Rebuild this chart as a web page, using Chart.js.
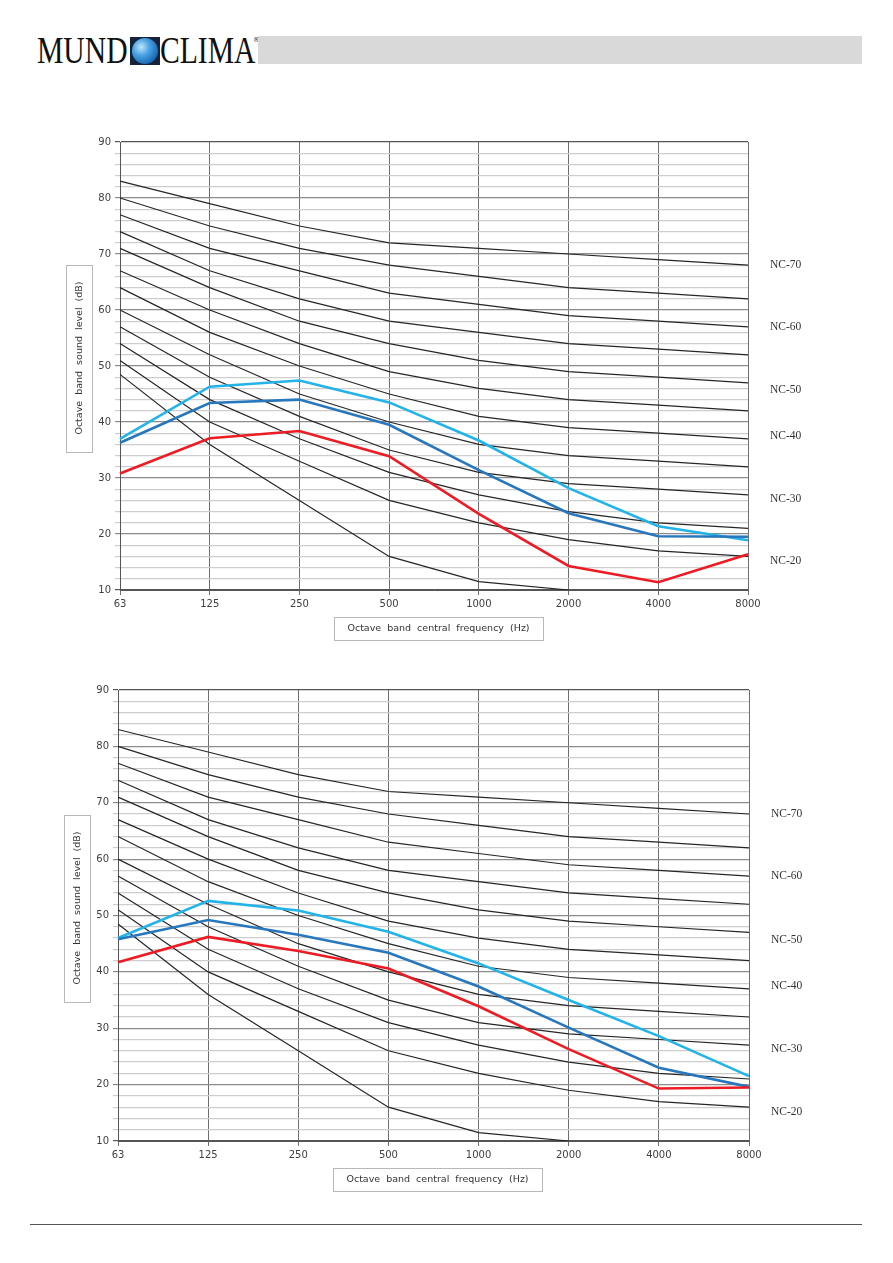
<!DOCTYPE html>
<html>
<head>
<meta charset="utf-8">
<script src="https://cdn.jsdelivr.net/npm/chart.js"></script>
<style>
  body { margin: 0; background: #fff; width: 893px; height: 1263px; position: relative; overflow: hidden; }
  .logo { position: absolute; top: 31px; font-family: "Liberation Serif", serif; font-size: 38px; color: #111; transform: scaleX(0.78); transform-origin: left top; line-height: 38px; }
  .globe { position: absolute; left: 130px; top: 37px; width: 30px; height: 28px; background: #15243c; }
  .globe:after { content: ""; position: absolute; left: 2px; top: 1px; width: 26px; height: 26px; border-radius: 50%;
    background: radial-gradient(circle at 35% 35%, #bfe4fb 0%, #4aa3e3 35%, #1566b3 75%, #0c3f7a 100%); }
  .reg { position: absolute; left: 253px; top: 36px; font-size: 7px; font-family: "DejaVu Sans", sans-serif; color: #333; }
  .bar { position: absolute; left: 258px; top: 36px; width: 604px; height: 28px; background: #d9d9d9; }
  .foot { position: absolute; left: 30px; top: 1224px; width: 832px; height: 1px; background: #555; }
  canvas { position: absolute; }
</style>
</head>
<body>
<div class="logo" style="left:37px">MUND</div>
<div class="globe"></div>
<div class="logo" style="left:160px">CLIMA</div>
<div class="reg">®</div>
<div class="bar"></div>
<div class="foot"></div>

<canvas id="chart1" width="780" height="520" style="left:60px; top:130px"></canvas>
<canvas id="chart2" width="782" height="523" style="left:58px; top:678px"></canvas>

<script>
// octave band centre frequencies (Hz)
const freqLabels = ['63', '125', '250', '500', '1000', '2000', '4000', '8000'];

// NC reference curves (dB)
const nc70 = [83, 79, 75, 72, 71, 70, 69, 68];
const nc65 = [80, 75, 71, 68, 66, 64, 63, 62];
const nc60 = [77, 71, 67, 63, 61, 59, 58, 57];
const nc55 = [74, 67, 62, 58, 56, 54, 53, 52];
const nc50 = [71, 64, 58, 54, 51, 49, 48, 47];
const nc45 = [67, 60, 54, 49, 46, 44, 43, 42];
const nc40 = [64, 56, 50, 45, 41, 39, 38, 37];
const nc35 = [60, 52, 45, 40, 36, 34, 33, 32];
const nc30 = [57, 48, 41, 35, 31, 29, 28, 27];
const nc25 = [54, 44, 37, 31, 27, 24, 22, 21];
const nc20 = [51, 40, 33, 26, 22, 19, 17, 16];
const ncLow = [48.5, 36, 26, 16, 11.5, 10, null, null];

// labels on the right and the dB level they sit at
const ncLabelNames = ['NC-70', 'NC-60', 'NC-50', 'NC-40', 'NC-30', 'NC-20'];
const ncLabelAt = [68, 57, 45.7, 37.5, 26.3, 15.2];

// chart 1 measured curves
const c1Cyan = [37.0, 46.3, 47.4, 43.5, 36.7, 28.2, 21.4, 18.9];
const c1Blue = [36.3, 43.4, 44.0, 39.5, 31.4, 23.7, 19.6, 19.5];
const c1Red  = [30.8, 37.1, 38.4, 33.9, 23.6, 14.3, 11.4, 16.4];

// chart 2 measured curves
const c2Cyan = [46.0, 52.6, 50.9, 47.1, 41.5, 35.0, 28.6, 21.5];
const c2Blue = [45.8, 49.2, 46.6, 43.4, 37.4, 30.1, 23.0, 19.6];
const c2Red  = [41.7, 46.2, 43.7, 40.6, 33.9, 26.3, 19.3, 19.5];

const dbMin = 10, dbMax = 90, dbStep = 2;

const xTitle = 'Octave  band  central  frequency  (Hz)';
const yTitle = 'Octave  band  sound  level  (dB)';

// boxed axis titles, like the spreadsheet original
const boxTitles = {
  id: 'boxTitles',
  afterDraw(chart) {
    const ctx = chart.ctx, a = chart.chartArea;
    ctx.save();
    ctx.font = '9.5px "DejaVu Sans"';
    ctx.lineWidth = 1;
    // x title
    const bx = Math.round((a.left + a.right) / 2 + 4 - 104.5), by = Math.round(a.bottom + 27);
    ctx.fillStyle = '#fff';
    ctx.fillRect(bx, by, 209, 23);
    ctx.strokeStyle = '#b8b8b8';
    ctx.strokeRect(bx + 0.5, by + 0.5, 209, 23);
    ctx.fillStyle = '#333';
    ctx.textAlign = 'center';
    ctx.textBaseline = 'middle';
    ctx.fillText(xTitle, bx + 104.5, by + 12);
    // y title
    const cx = Math.round(a.left - 41), cy = Math.round((a.top + a.bottom) / 2 - 8);
    ctx.fillStyle = '#fff';
    ctx.fillRect(cx - 13, cy - 93, 26, 187);
    ctx.strokeRect(cx - 12.5, cy - 92.5, 26, 187);
    ctx.translate(cx + 1, cy);
    ctx.rotate(-Math.PI / 2);
    ctx.fillStyle = '#333';
    ctx.fillText(yTitle, 0, 0);
    ctx.restore();
  }
};

function ncLine(values) {
  return { data: values, borderColor: '#262626', borderWidth: 1.2, pointRadius: 0, tension: 0, order: 1 };
}

function seriesLine(values, color) {
  return { data: values, borderColor: color, borderWidth: 2.6, pointRadius: 0, tension: 0, order: 0 };
}

function makeChart(id, cyan, blue, red, rightWidth) {
  const tickFont = { family: 'DejaVu Sans', size: 10 };
  return new Chart(document.getElementById(id), {
    type: 'line',
    data: {
      labels: freqLabels,
      datasets: [
        seriesLine(red, '#ed1c24'),
        seriesLine(blue, '#2777bd'),
        seriesLine(cyan, '#22b3e8'),
        ncLine(nc70), ncLine(nc65), ncLine(nc60), ncLine(nc55), ncLine(nc50), ncLine(nc45),
        ncLine(nc40), ncLine(nc35), ncLine(nc30), ncLine(nc25), ncLine(nc20), ncLine(ncLow)
      ]
    },
    options: {
      responsive: false,
      animation: false,
      devicePixelRatio: 1,
      layout: { padding: { top: 12, left: 0, right: 0, bottom: 0 } },
      plugins: { legend: { display: false }, tooltip: { enabled: false } },
      scales: {
        x: {
          offset: false,
          grid: { color: '#6e6e6e', lineWidth: 1, tickLength: 5 },
          border: { color: '#555' },
          ticks: { font: tickFont, color: '#404040', maxRotation: 0, autoSkip: false, padding: 3 },
          afterFit(scale) { scale.height = 60; }
        },
        y: {
          min: dbMin, max: dbMax,
          grid: {
            tickLength: 5,
            lineWidth: 1.2,
            color: (c) => {
              const v = c.tick ? c.tick.value : 0;
              if (v === dbMax || v === dbMin) return '#555';
              return v % 10 === 0 ? '#8c8c8c' : '#cdcdcd';
            }
          },
          border: { color: '#555' },
          ticks: {
            stepSize: dbStep, autoSkip: false, font: tickFont, color: '#404040', padding: 4,
            callback: (v) => (v % 10 === 0 ? String(v) : '')
          },
          afterFit(scale) { scale.width = 60; scale.paddingTop = 0; scale.paddingBottom = 0; }
        },
        y2: {
          position: 'right',
          min: dbMin, max: dbMax,
          grid: { display: false, drawTicks: false },
          border: { display: false },
          afterBuildTicks(scale) { scale.ticks = ncLabelAt.map(v => ({ value: v })); },
          ticks: {
            autoSkip: false, padding: 22, color: '#333',
            font: { family: 'Liberation Serif', size: 11.5 },
            callback: (v, i) => ncLabelNames[i]
          },
          // the label padding must not push the plot area down
          afterFit(scale) { scale.width = rightWidth; scale.paddingTop = 0; scale.paddingBottom = 0; }
        }
      }
    },
    plugins: [boxTitles]
  });
}

makeChart('chart1', c1Cyan, c1Blue, c1Red, 92);
makeChart('chart2', c2Cyan, c2Blue, c2Red, 91);
</script>
</body>
</html>
